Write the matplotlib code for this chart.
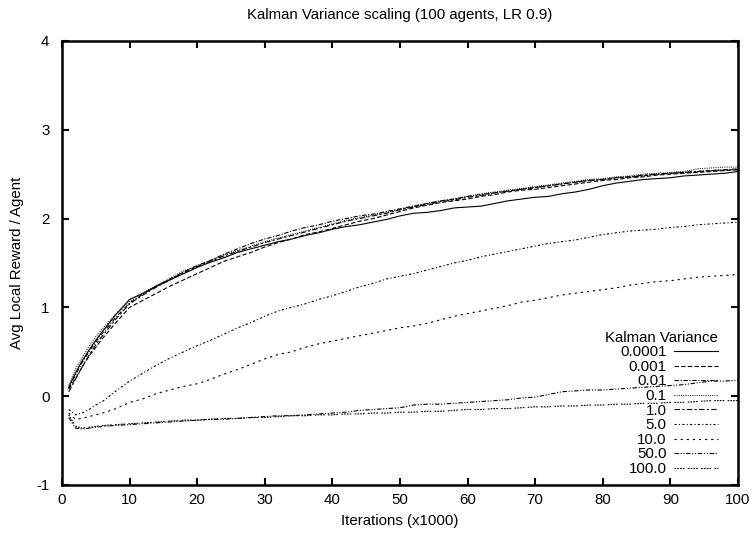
import matplotlib
matplotlib.use("Agg")
import matplotlib.pyplot as plt

plt.rcParams['font.family'] = ['Liberation Sans', 'DejaVu Sans']
plt.rcParams['axes.unicode_minus'] = False

# iterations (x1000)
iters = [1, 2, 3, 4, 5, 6] + list(range(8, 101, 2))

variances = ['0.0001', '0.001', '0.01', '0.1', '1.0', '5.0', '10.0', '50.0', '100.0']

v_0001 = [0.10, 0.26, 0.40, 0.52, 0.63, 0.73, 0.92, 1.09, 1.16, 1.24, 1.31, 1.38, 1.45,
          1.51, 1.56, 1.62, 1.66, 1.70, 1.74, 1.77, 1.81, 1.84, 1.88, 1.91, 1.93, 1.96,
          1.99, 2.03, 2.06, 2.07, 2.09, 2.12, 2.13, 2.14, 2.17, 2.20, 2.22, 2.24, 2.25,
          2.28, 2.30, 2.33, 2.37, 2.40, 2.42, 2.44, 2.45, 2.46, 2.48, 2.49, 2.50, 2.51,
          2.53]
v_001 = [0.08, 0.20, 0.33, 0.45, 0.55, 0.65, 0.83, 1.00, 1.08, 1.16, 1.24, 1.31, 1.38,
         1.45, 1.52, 1.57, 1.62, 1.68, 1.73, 1.77, 1.82, 1.85, 1.89, 1.93, 1.97, 2.00,
         2.04, 2.08, 2.12, 2.15, 2.18, 2.20, 2.22, 2.25, 2.27, 2.30, 2.32, 2.33, 2.35,
         2.37, 2.39, 2.41, 2.43, 2.44, 2.46, 2.47, 2.49, 2.50, 2.51, 2.52, 2.53, 2.54,
         2.55]
v_01 = [0.09, 0.24, 0.38, 0.50, 0.61, 0.71, 0.89, 1.05, 1.15, 1.24, 1.32, 1.40, 1.47,
        1.53, 1.60, 1.66, 1.72, 1.77, 1.81, 1.86, 1.90, 1.93, 1.97, 2.00, 2.03, 2.05,
        2.08, 2.11, 2.14, 2.17, 2.20, 2.22, 2.25, 2.27, 2.29, 2.31, 2.33, 2.35, 2.37,
        2.39, 2.41, 2.43, 2.44, 2.46, 2.47, 2.48, 2.50, 2.51, 2.52, 2.53, 2.54, 2.55,
        2.56]
v_1 = [0.12, 0.30, 0.44, 0.56, 0.67, 0.76, 0.93, 1.07, 1.16, 1.25, 1.33, 1.41, 1.47,
       1.53, 1.59, 1.64, 1.69, 1.74, 1.78, 1.82, 1.86, 1.90, 1.94, 1.98, 2.01, 2.04,
       2.07, 2.10, 2.14, 2.17, 2.20, 2.22, 2.25, 2.28, 2.30, 2.32, 2.34, 2.36, 2.38,
       2.40, 2.42, 2.44, 2.45, 2.47, 2.48, 2.50, 2.51, 2.52, 2.53, 2.56, 2.57, 2.58,
       2.58]
v_10 = [0.05, 0.19, 0.33, 0.46, 0.58, 0.68, 0.87, 1.04, 1.14, 1.23, 1.31, 1.39, 1.46,
        1.52, 1.58, 1.63, 1.68, 1.73, 1.77, 1.81, 1.85, 1.89, 1.93, 1.97, 2.00, 2.03,
        2.06, 2.10, 2.13, 2.16, 2.19, 2.21, 2.24, 2.26, 2.29, 2.31, 2.33, 2.35, 2.37,
        2.39, 2.41, 2.43, 2.44, 2.46, 2.47, 2.49, 2.50, 2.51, 2.52, 2.53, 2.54, 2.55,
        2.55]
v_50 = [-0.15, -0.21, -0.19, -0.15, -0.10, -0.06, 0.06, 0.17, 0.26, 0.35, 0.43, 0.50,
        0.57, 0.63, 0.70, 0.77, 0.83, 0.90, 0.96, 1.00, 1.04, 1.09, 1.13, 1.18, 1.23,
        1.27, 1.32, 1.35, 1.38, 1.42, 1.46, 1.50, 1.53, 1.57, 1.60, 1.63, 1.66, 1.69,
        1.72, 1.74, 1.76, 1.79, 1.82, 1.84, 1.86, 1.87, 1.88, 1.90, 1.91, 1.93, 1.94,
        1.95, 1.96]
v_100 = [-0.19, -0.26, -0.25, -0.23, -0.21, -0.19, -0.14, -0.07, -0.03, 0.03, 0.07,
         0.11, 0.14, 0.19, 0.25, 0.30, 0.36, 0.42, 0.47, 0.50, 0.55, 0.59, 0.62, 0.65,
         0.68, 0.71, 0.74, 0.77, 0.79, 0.82, 0.86, 0.90, 0.93, 0.96, 0.99, 1.02, 1.06,
         1.08, 1.11, 1.14, 1.16, 1.18, 1.20, 1.22, 1.25, 1.27, 1.29, 1.30, 1.32, 1.34,
         1.35, 1.36, 1.37]
v_500 = [-0.24, -0.36, -0.37, -0.36, -0.35, -0.34, -0.33, -0.32, -0.31, -0.30, -0.29,
         -0.28, -0.27, -0.26, -0.26, -0.25, -0.24, -0.23, -0.22, -0.22, -0.21, -0.20,
         -0.19, -0.18, -0.16, -0.15, -0.14, -0.13, -0.10, -0.09, -0.09, -0.08, -0.07,
         -0.06, -0.05, -0.04, -0.02, -0.01, 0.02, 0.05, 0.06, 0.07, 0.07, 0.08, 0.09,
         0.10, 0.11, 0.12, 0.13, 0.15, 0.17, 0.17, 0.18]
v_1000 = [-0.21, -0.34, -0.36, -0.35, -0.34, -0.33, -0.32, -0.31, -0.30, -0.29, -0.28,
          -0.27, -0.27, -0.26, -0.25, -0.25, -0.24, -0.24, -0.23, -0.22, -0.22, -0.21,
          -0.21, -0.20, -0.20, -0.19, -0.19, -0.18, -0.18, -0.17, -0.17, -0.16, -0.15,
          -0.15, -0.14, -0.14, -0.13, -0.12, -0.12, -0.11, -0.11, -0.10, -0.10, -0.09,
          -0.09, -0.08, -0.08, -0.07, -0.07, -0.06, -0.05, -0.05, -0.05]

series = [v_0001, v_001, v_01, v_1, v_10, v_50, v_100, v_500, v_1000]

# gnuplot-ish dash patterns
dashes = [
    (None, None),
    (0, (4, 2)),
    (0, (4, 1.5, 1, 1.5)),
    (0, (0.8, 1.2)),
    (0, (5, 2, 2, 2)),
    (0, (2, 2, 1, 2)),
    (0, (2, 3.5)),
    (0, (4, 1.5, 1, 1.5, 1, 1.5)),
    (0, (1.5, 1, 1.5, 1, 1.5, 1, 1.5, 3)),
]

fs = 10.8

fig = plt.figure(figsize=(7.53, 5.35), dpi=100)
ax = fig.add_axes([0.0823, 0.0935, 0.8977, 0.8299])

for vals, lab, d in zip(series, variances, dashes):
    if d[0] is None:
        ax.plot(iters, vals, color='black', lw=0.8, label=lab)
    else:
        ax.plot(iters, vals, color='black', lw=0.8, linestyle=d, label=lab)

ax.set_xlim(0, 100)
ax.set_ylim(-1, 4)
ax.set_xticks(range(0, 101, 10))
ax.set_yticks(range(-1, 5))
ax.tick_params(direction='in', length=5, width=1.5, top=True, right=True,
               labelsize=fs)
ax.tick_params(axis='y', pad=9)
ax.tick_params(axis='x', pad=6)
for s in ax.spines.values():
    s.set_linewidth(1.8)

ax.set_title('Kalman Variance scaling (100 agents, LR 0.9)', fontsize=fs, pad=16)
ax.set_xlabel('Iterations (x1000)', fontsize=fs, labelpad=5)
ax.set_ylabel('Avg Local Reward / Agent', fontsize=fs, labelpad=9)

leg = ax.legend(title='Kalman Variance', loc='lower right',
                bbox_to_anchor=(0.97, 0.02), markerfirst=False, frameon=False,
                fontsize=fs, title_fontsize=fs, alignment='right',
                handlelength=2.9, handletextpad=0.5, labelspacing=0.04,
                borderpad=0, borderaxespad=0)

fig.savefig('out.png', dpi=100)
